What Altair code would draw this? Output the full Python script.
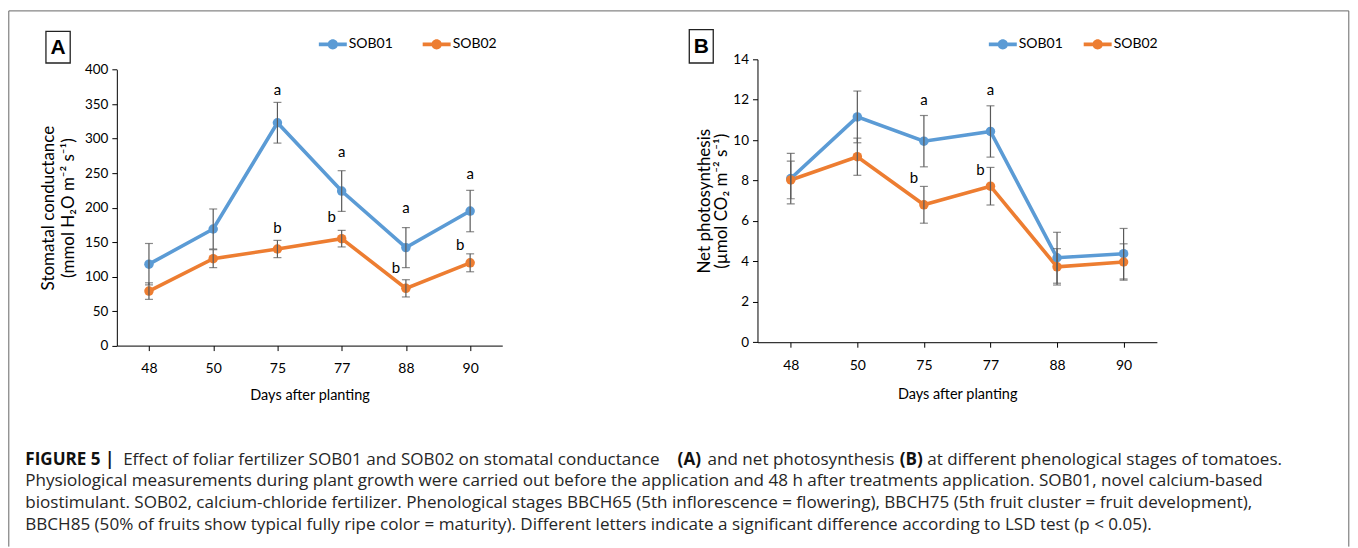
import altair as alt
import pandas as pd

# ---------------- data ----------------
days = ["48", "50", "75", "77", "88", "90"]
series = ["SOB01", "SOB02"]
colors = ["#5B9BD5", "#ED7D31"]

# Panel A: stomatal conductance (mmol H2O m-2 s-1)
gs_sob01 = [118, 169, 323, 224, 142, 195]
gs_sob01_err = [30, 29, 29.5, 29.5, 29, 30]
gs_sob02 = [79, 126, 140, 155, 83, 120]
gs_sob02_err = [12, 13, 12.5, 12, 12.5, 13]
gs_letter_day = ["75", "75", "77", "77", "88", "88", "90", "90"]
gs_letter = ["a", "b", "a", "b", "a", "b", "a", "b"]
gs_letter_y = [370, 171, 281, 187, 200, 112, 249, 146]
gs_letter_left = [False, False, False, True, False, True, False, True]

# Panel B: net photosynthesis (umol CO2 m-2 s-1)
pn_sob01 = [8.1, 11.15, 9.95, 10.43, 4.18, 4.38]
pn_sob01_err = [1.25, 1.28, 1.27, 1.27, 1.26, 1.25]
pn_sob02 = [8.03, 9.18, 6.8, 7.72, 3.73, 3.97]
pn_sob02_err = [0.93, 0.92, 0.91, 0.93, 0.9, 0.9]
pn_letter_day = ["75", "75", "77", "77"]
pn_letter = ["a", "b", "a", "b"]
pn_letter_y = [12.0, 8.14, 12.5, 8.52]
pn_letter_left = [False, True, False, True]

gs_ticks = [0, 50, 100, 150, 200, 250, 300, 350, 400]
pn_ticks = [0, 2, 4, 6, 8, 10, 12, 14]

caption_l1 = ["FIGURE 5 |", "Effect of foliar fertilizer SOB01 and SOB02 on stomatal conductance",
              "(A)", "and net photosynthesis", "(B)", "at different phenological stages of tomatoes."]
caption_l1_bold = [True, False, True, False, True, False]
caption_rest = [
    "Physiological measurements during plant growth were carried out before the application and 48 h after treatments application. SOB01, novel calcium-based",
    "biostimulant. SOB02, calcium-chloride fertilizer. Phenological stages BBCH65 (5th inflorescence = flowering), BBCH75 (5th fruit cluster = fruit development),",
    "BBCH85 (50% of fruits show typical fully ripe color = maturity). Different letters indicate a significant difference according to LSD test (p < 0.05).",
]

# ---------------- helpers ----------------
FONT = "Lato"
CAP_FONT = "Open Sans"
ERR = "#595959"
dummy = pd.DataFrame({"k": [0]})


def long_df(v1, e1, v2, e2):
    rows = []
    for s, vals, errs in ((series[0], v1, e1), (series[1], v2, e2)):
        for d, v, e in zip(days, vals, errs):
            rows.append({"day": d, "series": s, "line_series": s,
                         "value": v, "lo": v - e, "hi": v + e})
    return pd.DataFrame(rows)


def panel(df, ldf, ydom, yvals, ytitle, w, h, yrange, title_x, title_line, x_title_y,
          legend_x, legend_y, col_pad, extras):
    xenc = alt.X("day:N", sort=days, scale=alt.Scale(type="point", padding=0.5),
                 axis=alt.Axis(title="Days after planting", labelAngle=0, tickSize=5,
                               labelPadding=11, labelFontSize=14, titleFontSize=14.5,
                               titleY=x_title_y, titleBaseline="middle",
                               domainColor="#000", tickColor="#000"))
    yaxis = alt.Axis(values=yvals, grid=False, tickSize=5, labelPadding=4, labelFontSize=13.5,
                     title=ytitle, titleFontSize=17, titleX=title_x,
                     titleY=(yrange[0] + yrange[1]) / 2,
                     titleBaseline="middle", titleAlign="center", titleAngle=-90,
                     titleLineHeight=title_line, domainColor="#000", tickColor="#000")
    ysc = alt.Scale(domain=ydom, nice=False, zero=True, range=yrange)

    def Y(f):
        return alt.Y(f"{f}:Q", scale=ysc, axis=yaxis)

    cscale = alt.Scale(domain=series, range=colors)
    sym = ("M-1,-0.13H1V0.13H-1Z"
           "M0.37,0A0.37,0.37,0,1,1,-0.37,0A0.37,0.37,0,1,1,0.37,0Z")
    legend = alt.Legend(orient="none", legendX=legend_x, legendY=legend_y, direction="horizontal",
                        title=None, symbolType=sym, symbolSize=784, symbolStrokeWidth=0,
                        symbolOpacity=1, labelFont=FONT, labelFontSize=14, labelOffset=2,
                        labelColor="#000", columnPadding=col_pad, padding=0)
    base = alt.Chart(df)
    # line colours come from a separate (data-domain) stroke scale so that its
    # disabled legend is not merged with the colour legend of the points
    line = base.mark_line(strokeWidth=3.6).encode(
        x=xenc, y=Y("value"),
        stroke=alt.Stroke("line_series:N", scale=alt.Scale(range=colors), legend=None))
    pts = base.mark_point(filled=True, size=90, opacity=1).encode(
        x=xenc, y=Y("value"), color=alt.Color("series:N", scale=cscale, legend=legend))
    rule = base.mark_rule(color=ERR, strokeWidth=1.2).encode(x=xenc, y=Y("lo"), y2="hi:Q")
    cap_lo = base.mark_tick(color=ERR, thickness=1.2, size=8).encode(x=xenc, y=Y("lo"))
    cap_hi = base.mark_tick(color=ERR, thickness=1.2, size=8).encode(x=xenc, y=Y("hi"))
    lt = alt.Chart(ldf)
    let_c = lt.transform_filter("!datum.left").mark_text(
        font=FONT, fontSize=15, color="#000", baseline="middle").encode(
        x=xenc, y=Y("y"), text="letter:N")
    let_l = lt.transform_filter("datum.left").mark_text(
        font=FONT, fontSize=15, color="#000", baseline="middle", dx=-10).encode(
        x=xenc, y=Y("y"), text="letter:N")
    layers = [line, pts, rule, cap_lo, cap_hi, let_c, let_l] + extras
    return alt.layer(*layers).properties(width=w, height=h)


def txt(x, y, s, **kw):
    params = dict(font=CAP_FONT, fontSize=17.1, color="#262626", align="left", baseline="middle")
    params.update(kw)
    return alt.Chart(dummy).mark_text(**params).encode(
        x=alt.value(x), y=alt.value(y), text=alt.value(s))


def box_label(x0, y0, x1, y1, s):
    r = alt.Chart(dummy).mark_rect(fill="white", stroke="#222", strokeWidth=1.3).encode(
        x=alt.value(x0), x2=alt.value(x1), y=alt.value(y0), y2=alt.value(y1))
    t = alt.Chart(dummy).mark_text(font="Liberation Sans", fontSize=21, fontWeight="bold",
                                   color="#000", align="center", baseline="middle").encode(
        x=alt.value((x0 + x1) / 2), y=alt.value((y0 + y1) / 2 + 1), text=alt.value(s))
    return [r, t]


# ---------------- decorations for panel A (frame + caption) ----------------
FL, FT, FR, FB = -108.2, -48.5, 1233.8, 488
frame = [
    alt.Chart(dummy).mark_rule(color="#666", strokeWidth=1).encode(
        x=alt.value(FL), x2=alt.value(FR), y=alt.value(FT)),
    alt.Chart(dummy).mark_rule(color="#666", strokeWidth=1).encode(
        x=alt.value(FL), y=alt.value(FT), y2=alt.value(FB)),
    alt.Chart(dummy).mark_rule(color="#666", strokeWidth=1).encode(
        x=alt.value(FR), y=alt.value(FT), y2=alt.value(FB)),
]
l1_x = [-91.7, 6.3, 561.6, 591.6, 784.0, 811.6]
cap = []
for s, b, x in zip(caption_l1, caption_l1_bold, l1_x):
    if b:
        cap.append(txt(x, 401.0, s, fontWeight="bold", color="#111"))
    else:
        cap.append(txt(x, 401.0, s))
for i, s in enumerate(caption_rest):
    cap.append(txt(-91.7, 422.7 + 21.7 * i, s))

extras_a = box_label(-71, -28, -46.7, 3.7, "A") + frame + cap
extras_b = box_label(-68.3, -29.7, -44.3, 3.7, "B")

df_a = long_df(gs_sob01, gs_sob01_err, gs_sob02, gs_sob02_err)
ldf_a = pd.DataFrame({"day": gs_letter_day, "letter": gs_letter, "y": gs_letter_y,
                      "left": gs_letter_left})
df_b = long_df(pn_sob01, pn_sob01_err, pn_sob02, pn_sob02_err)
ldf_b = pd.DataFrame({"day": pn_letter_day, "letter": pn_letter, "y": pn_letter_y,
                      "left": pn_letter_left})

panel_a = panel(df_a, ldf_a, [0, 400], gs_ticks,
                ["Stomatal conductance", "(mmol H\u2082O m\u207b\u00b2 s\u207b\u00b9)"],
                386, 286.7, [286.7, 10.3], -68.7, 20, 49.5, 202.3, -29, 29, extras_a)
panel_b = panel(df_b, ldf_b, [0, 14], pn_ticks,
                ["Net photosynthesis", "(\u00b5mol CO\u2082 m\u207b\u00b2 s\u207b\u00b9)"],
                400, 283.3, [283.3, 0], -53.3, 17, 52.7, 231.7, -29, 20, extras_b)

chart = alt.hconcat(panel_a, panel_b, spacing=255.6, bounds="flush").resolve_scale(
    x="independent", y="independent", color="independent", stroke="independent"
).resolve_legend(color="independent", stroke="independent").properties(
    padding={"left": 0, "top": 2, "right": 0, "bottom": 0}
).configure_view(stroke=None).configure_axis(
    labelFont=FONT, titleFont=FONT, titleFontWeight="normal",
    labelColor="#000", titleColor="#000", domainWidth=1, tickWidth=1
)

chart.save("out.html", embed_options={"renderer": "svg", "actions": False})
